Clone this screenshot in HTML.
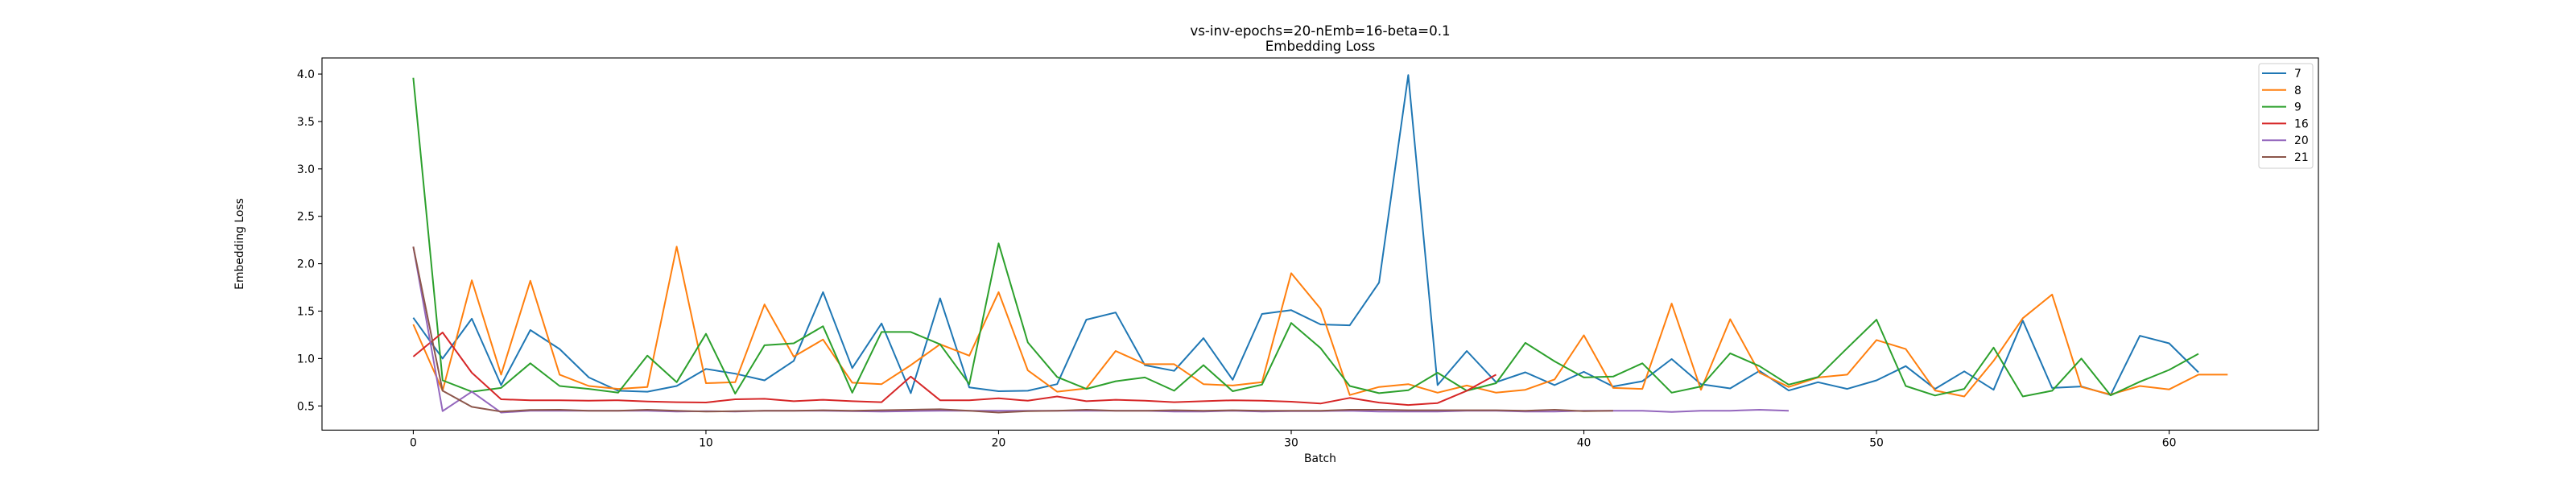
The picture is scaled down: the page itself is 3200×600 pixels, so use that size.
<!DOCTYPE html>
<html><head><meta charset="utf-8">
<style>
html,body{margin:0;padding:0;background:#fff;}
svg{display:block;font-family:"DejaVu Sans","Liberation Sans",sans-serif;}
</style></head>
<body>
<svg id="chart" width="3200" height="600" viewBox="0 0 3200 600" xmlns="http://www.w3.org/2000/svg">
<rect width="3200" height="600" fill="#fff"/>
<text x="1640" y="44" text-anchor="middle" font-size="16.7" fill="#000">vs-inv-epochs=20-nEmb=16-beta=0.1</text>
<text x="1640" y="63" text-anchor="middle" font-size="16.7" fill="#000">Embedding Loss</text>
<g id="ticks"></g>
<g id="series"></g>
<rect x="400" y="72" width="2480" height="462.3" fill="none" stroke="#000" stroke-width="1.1"/>
<text x="1640" y="574" text-anchor="middle" font-size="13.9">Batch</text>
<text transform="translate(302,303) rotate(-90)" text-anchor="middle" font-size="13.9">Embedding Loss</text>
<g id="legend"></g>
</svg>
<script>
const seriesNames = ["7","8","9","16","20","21"];
const seriesColors = ["#1f77b4","#ff7f0e","#2ca02c","#d62728","#9467bd","#8c564b"];
const s7 = [1.43,1.00,1.42,0.72,1.30,1.10,0.80,0.66,0.65,0.71,0.89,0.84,0.77,0.975,1.70,0.90,1.37,0.635,1.635,0.695,0.655,0.66,0.73,1.41,1.485,0.93,0.87,1.215,0.776,1.47,1.51,1.36,1.35,1.80,3.99,0.72,1.08,0.75,0.855,0.72,0.86,0.705,0.76,0.995,0.73,0.685,0.87,0.663,0.75,0.68,0.77,0.92,0.68,0.865,0.67,1.40,0.69,0.705,0.615,1.24,1.16,0.855];
const s8 = [1.36,0.66,1.825,0.83,1.82,0.83,0.71,0.68,0.70,2.18,0.74,0.75,1.57,1.02,1.20,0.745,0.73,0.93,1.15,1.03,1.70,0.875,0.65,0.685,1.08,0.94,0.94,0.73,0.715,0.75,1.90,1.525,0.615,0.70,0.73,0.64,0.715,0.64,0.67,0.78,1.245,0.69,0.68,1.58,0.67,1.415,0.85,0.70,0.80,0.83,1.195,1.10,0.663,0.60,0.975,1.425,1.675,0.70,0.62,0.71,0.675,0.83,0.83];
const s9 = [3.96,0.77,0.65,0.69,0.95,0.71,0.68,0.64,1.03,0.75,1.26,0.63,1.14,1.16,1.34,0.64,1.28,1.28,1.15,0.73,2.215,1.17,0.805,0.68,0.76,0.80,0.66,0.93,0.655,0.725,1.375,1.11,0.71,0.635,0.665,0.85,0.66,0.74,1.165,0.97,0.80,0.81,0.95,0.64,0.705,1.055,0.92,0.725,0.805,1.11,1.41,0.71,0.61,0.68,1.115,0.60,0.66,1.0,0.612,0.755,0.88,1.05];
const s16 = [1.02,1.275,0.85,0.57,0.56,0.56,0.556,0.56,0.547,0.54,0.536,0.57,0.575,0.55,0.565,0.55,0.54,0.81,0.56,0.56,0.58,0.555,0.60,0.55,0.565,0.555,0.54,0.55,0.56,0.555,0.545,0.525,0.585,0.535,0.51,0.53,0.66,0.83];
const s20 = [2.18,0.445,0.65,0.43,0.45,0.45,0.45,0.45,0.45,0.44,0.445,0.44,0.45,0.45,0.45,0.445,0.44,0.445,0.45,0.45,0.45,0.45,0.45,0.45,0.45,0.45,0.44,0.44,0.45,0.44,0.445,0.445,0.45,0.44,0.44,0.44,0.45,0.45,0.44,0.44,0.45,0.45,0.45,0.437,0.45,0.45,0.46,0.45];
const s21 = [2.18,0.66,0.49,0.44,0.457,0.46,0.45,0.45,0.46,0.45,0.44,0.445,0.45,0.45,0.455,0.45,0.455,0.46,0.465,0.45,0.43,0.445,0.45,0.46,0.45,0.45,0.455,0.45,0.455,0.45,0.45,0.45,0.46,0.46,0.455,0.455,0.455,0.455,0.45,0.46,0.445,0.45];
const xTicks = [0,10,20,30,40,50,60];
const yTicks = ["0.5","1.0","1.5","2.0","2.5","3.0","3.5","4.0"];

const NS = "http://www.w3.org/2000/svg";
const X0 = 400, X1 = 2880, Y0 = 72, Y1 = 534.3;
const xMin = -3.12, xMax = 65.1, yMin = 0.245, yMax = 4.17;
function xs(v){ return X0 + (v - xMin) / (xMax - xMin) * (X1 - X0); }
function ys(v){ return Y1 - (v - yMin) / (yMax - yMin) * (Y1 - Y0); }

const tg = document.getElementById('ticks');
xTicks.forEach(t => {
  const x = xs(t);
  const l = document.createElementNS(NS,'line');
  l.setAttribute('x1',x); l.setAttribute('x2',x); l.setAttribute('y1',Y1); l.setAttribute('y2',Y1+5);
  l.setAttribute('stroke','#000'); l.setAttribute('stroke-width','1.1');
  
  
  tg.appendChild(l);
  const tx = document.createElementNS(NS,'text');
  tx.setAttribute('x',x); tx.setAttribute('y',Y1+20); tx.setAttribute('text-anchor','middle'); tx.setAttribute('font-size','13.9');
  tx.textContent = t;
  
  
  tg.appendChild(tx);
});
yTicks.forEach(t => {
  const y = ys(parseFloat(t));
  const l = document.createElementNS(NS,'line');
  l.setAttribute('x1',X0-5); l.setAttribute('x2',X0); l.setAttribute('y1',y); l.setAttribute('y2',y);
  l.setAttribute('stroke','#000'); l.setAttribute('stroke-width','1.1');
  
  
  tg.appendChild(l);
  const tx = document.createElementNS(NS,'text');
  tx.setAttribute('x',X0-9); tx.setAttribute('y',y+5); tx.setAttribute('text-anchor','end'); tx.setAttribute('font-size','13.9');
  tx.textContent = t;
  
  
  tg.appendChild(tx);
});

const allSeries = [s7,s8,s9,s16,s20,s21];
const sg = document.getElementById('series');
allSeries.forEach((d,k) => {
  const p = document.createElementNS(NS,'polyline');
  p.setAttribute('points', d.map((v,i) => xs(i).toFixed(1)+','+ys(v).toFixed(1)).join(' '));
  p.setAttribute('fill','none'); p.setAttribute('stroke',seriesColors[k]); p.setAttribute('stroke-width','2');
  p.setAttribute('stroke-linejoin','round');
  
  
  sg.appendChild(p);
});

const lg = document.getElementById('legend');
const box = document.createElementNS(NS,'rect');
box.setAttribute('x',2806); box.setAttribute('y',79); box.setAttribute('width',67); box.setAttribute('height',130);
box.setAttribute('rx',3); box.setAttribute('fill','#fff'); box.setAttribute('stroke','#ccc');


lg.appendChild(box);
seriesNames.forEach((n,k) => {
  const y = 91 + k*20.8;
  const l = document.createElementNS(NS,'line');
  l.setAttribute('x1',2810); l.setAttribute('x2',2840); l.setAttribute('y1',y); l.setAttribute('y2',y);
  l.setAttribute('stroke',seriesColors[k]); l.setAttribute('stroke-width','2');
  
  
  lg.appendChild(l);
  const t = document.createElementNS(NS,'text');
  t.setAttribute('x',2850); t.setAttribute('y',y+5); t.setAttribute('font-size','13.9');
  t.textContent = n;
  
  
  lg.appendChild(t);
});
</script>
</body></html>
